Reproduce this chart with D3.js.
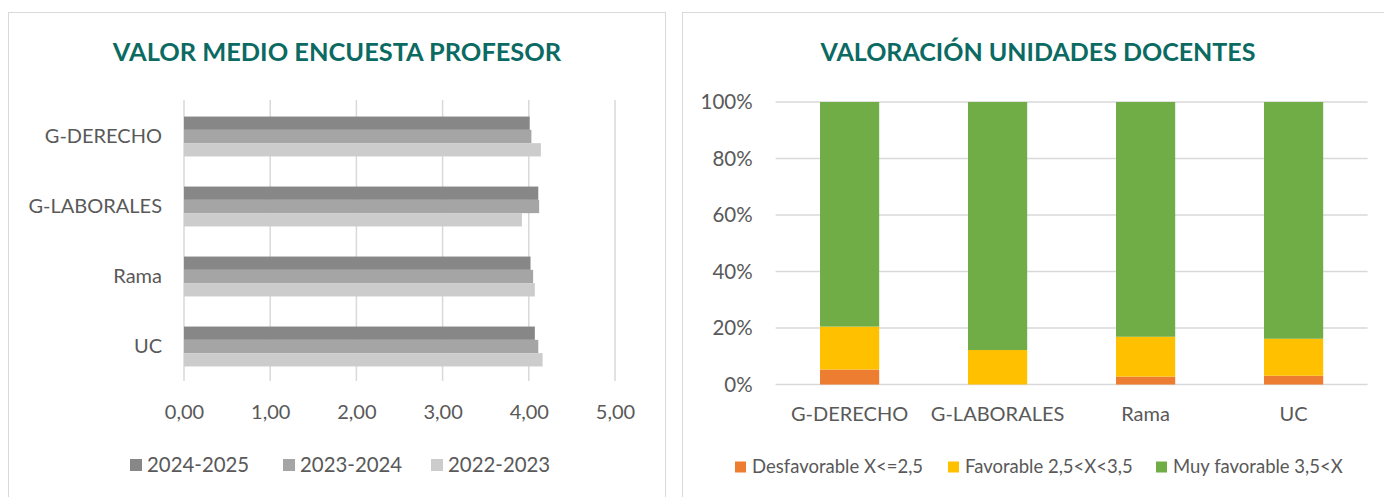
<!DOCTYPE html>
<html>
<head>
<meta charset="utf-8">
<script src="https://cdn.jsdelivr.net/npm/d3@7"></script>
<style>
  body { margin: 0; background: #fff; }
  svg { display: block; font-family: Lato, "Open Sans", sans-serif; }
</style>
</head>
<body>
<svg id="chart" width="1384" height="497"></svg>
<script>
// left chart data
const centros = ['G-DERECHO', 'G-LABORALES', 'Rama', 'UC'];
const cursos = ['2024-2025', '2023-2024', '2022-2023'];
const media2425 = [4.01, 4.11, 4.02, 4.07];
const media2324 = [4.03, 4.12, 4.05, 4.11];
const media2223 = [4.14, 3.92, 4.07, 4.16];
const mediaTicks = [0, 1, 2, 3, 4, 5];

// right chart data
const unidades = ['G-DERECHO', 'G-LABORALES', 'Rama', 'UC'];
const niveles = ['Desfavorable X<=2,5', 'Favorable 2,5<X<3,5', 'Muy favorable 3,5<X'];
const desfavorable = [0.053, 0.0, 0.028, 0.031];
const favorable = [0.152, 0.122, 0.141, 0.131];
const muyFavorable = [0.795, 0.878, 0.831, 0.838];
const pctTicks = [0, 0.2, 0.4, 0.6, 0.8, 1];

const grey = ['#878787', '#a5a5a5', '#cccccc'];
const estados = ['#ed7d31', '#ffc000', '#70ad47'];
const textCol = '#595959';
const gridCol = '#d9d9d9';
const teal = '#0b6a62';

const svg = d3.select('#chart');

// panel frames
svg.append('rect').attr('x', 8.5).attr('y', 12.5).attr('width', 657).attr('height', 500)
  .attr('fill', 'none').attr('stroke', gridCol);
svg.append('rect').attr('x', 682.5).attr('y', 12.5).attr('width', 720).attr('height', 500)
  .attr('fill', 'none').attr('stroke', gridCol);

// ---------- left: horizontal grouped bars ----------
const x = d3.scaleLinear().domain([0, 5]).range([184, 615]);
const y = d3.scaleBand().domain(centros).range([101.5, 381.5]).paddingInner(0.43).paddingOuter(0.215);
const ySub = d3.scaleBand().domain(cursos).range([0, y.bandwidth()]);

svg.append('text').attr('x', 337).attr('y', 61).attr('text-anchor', 'middle')
  .attr('fill', teal).attr('font-weight', 'bold').attr('font-size', 25.4)
  .text('VALOR MEDIO ENCUESTA PROFESOR');

const xAxis = svg.append('g').attr('transform', 'translate(0,381)')
  .call(d3.axisBottom(x).tickValues(mediaTicks).tickSize(0).tickPadding(24)
    .tickFormat(d => d3.format('.2f')(d).replace('.', ',')));
xAxis.select('.domain').remove();
xAxis.selectAll('text').attr('fill', textCol).attr('font-size', 20).attr('font-family', 'Lato');

svg.append('g').selectAll('line').data(mediaTicks).join('line')
  .attr('x1', d => x(d)).attr('x2', d => x(d)).attr('y1', 100).attr('y2', 381)
  .attr('stroke', gridCol).attr('stroke-width', 1.5);

const leftSeries = [media2425, media2324, media2223];
cursos.forEach((c, i) => {
  svg.append('g').selectAll('rect').data(centros).join('rect')
    .attr('x', x(0))
    .attr('y', d => y(d) + ySub(c))
    .attr('width', (d, j) => x(leftSeries[i][j]) - x(0))
    .attr('height', ySub.bandwidth())
    .attr('fill', grey[i]);
});

const yAxis = svg.append('g').attr('transform', 'translate(184,0)')
  .call(d3.axisLeft(y).tickSize(0).tickPadding(22));
yAxis.select('.domain').remove();
yAxis.selectAll('text').attr('fill', textCol).attr('font-size', 20).attr('font-family', 'Lato');

const legL = svg.append('g');
const legLx = [130, 283, 431];
cursos.forEach((c, i) => {
  const g = legL.append('g').attr('transform', `translate(${legLx[i]},465)`);
  g.append('rect').attr('x', 0).attr('y', -6).attr('width', 12).attr('height', 12).attr('fill', grey[i]);
  g.append('text').attr('x', 17).attr('y', 0).attr('dy', '0.35em').attr('fill', textCol)
    .attr('font-size', 20.4).text(c);
});

// ---------- right: 100% stacked columns ----------
const xb = d3.scaleBand().domain(unidades).range([775.6, 1367.6]).paddingInner(0.6).paddingOuter(0.3);
const yp = d3.scaleLinear().domain([0, 1]).range([384.5, 102]);

svg.append('text').attr('x', 1038).attr('y', 61).attr('text-anchor', 'middle')
  .attr('fill', teal).attr('font-weight', 'bold').attr('font-size', 25)
  .text('VALORACIÓN UNIDADES DOCENTES');

svg.append('g').selectAll('line').data(pctTicks).join('line')
  .attr('x1', 775.6).attr('x2', 1367.6).attr('y1', d => yp(d)).attr('y2', d => yp(d))
  .attr('stroke', gridCol).attr('stroke-width', 1.5);

const rows = unidades.map((u, i) => ({
  unidad: u,
  [niveles[0]]: desfavorable[i],
  [niveles[1]]: favorable[i],
  [niveles[2]]: muyFavorable[i]
}));
const stacked = d3.stack().keys(niveles)(rows);

stacked.forEach((layer, i) => {
  svg.append('g').selectAll('rect').data(layer).join('rect')
    .attr('x', d => xb(d.data.unidad))
    .attr('y', d => yp(d[1]))
    .attr('width', xb.bandwidth())
    .attr('height', d => yp(d[0]) - yp(d[1]))
    .attr('fill', estados[i]);
});

const yAxisR = svg.append('g').attr('transform', 'translate(775.6,0)')
  .call(d3.axisLeft(yp).tickValues(pctTicks).tickSize(0).tickPadding(23).tickFormat(d3.format('.0%')));
yAxisR.select('.domain').remove();
yAxisR.selectAll('text').attr('fill', textCol).attr('font-size', 20.5).attr('font-family', 'Lato');

const xAxisR = svg.append('g').attr('transform', 'translate(0,384.5)')
  .call(d3.axisBottom(xb).tickSize(0).tickPadding(22));
xAxisR.select('.domain').remove();
xAxisR.selectAll('text').attr('fill', textCol).attr('font-size', 20).attr('font-family', 'Lato');

const legRx = [735, 948, 1156];
niveles.forEach((n, i) => {
  const g = svg.append('g').attr('transform', `translate(${legRx[i]},467)`);
  g.append('rect').attr('x', 0).attr('y', -5.5).attr('width', 11).attr('height', 11).attr('fill', estados[i]);
  g.append('text').attr('x', 17).attr('y', 0).attr('dy', '0.35em').attr('fill', textCol)
    .attr('font-size', 18.5).text(n);
});
</script>
</body>
</html>
